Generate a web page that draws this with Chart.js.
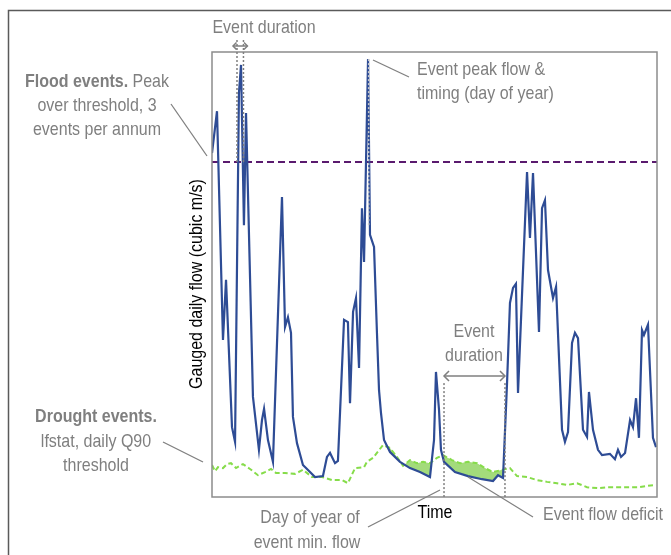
<!DOCTYPE html>
<html><head><meta charset="utf-8">
<script src="https://cdn.jsdelivr.net/npm/chart.js@4.4.1/dist/chart.umd.min.js"></script>
<style>html,body{margin:0;padding:0;background:#fff;}#wrap{width:671px;height:555px;position:relative;}</style>
</head><body><div id="wrap"><canvas id="c" width="671" height="555"></canvas></div>
<script>
// Gauged daily flow (schematic hydrograph)
const flowDays = [0,4.1,9.0,11.5,16.4,18.9,22.1,23.8,26.2,27.9,33.6,38.5,41.0,42.7,45.9,50.0,57.4,59.9,62.3,64.8,66.4,69.7,74.6,80.4,84.5,91.0,94.3,96.8,100.9,103.3,108.3,111.5,113.2,115.7,118.1,120.6,123.0,124.7,128.0,129.6,132.9,135.3,137.0,138.6,141.1,146.0,154.2,162.4,170.6,178.8,182.1,183.7,186.2,187.8,190.3,199.3,210.0,221.5,230.5,234.6,238.7,242.0,244.4,246.9,249.3,251.0,258.4,260.8,263.3,268.2,270.7,273.1,275.6,279.7,282.2,287.1,289.5,292.0,295.3,297.7,300.2,304.3,307.6,309.2,312.5,316.6,319.9,326.4,330.5,333.0,335.5,338.8,342.9,345.3,347.8,350.2,352.7,354.3,357.6,361.7,364.2];
const flowValues = [77.3,86.7,35.3,48.8,15.7,12.4,90.8,97.1,61.1,86.3,22.5,10.6,17.3,19.8,12.8,7.9,67.4,38.2,40.4,36.9,18.0,12.1,7.2,5.6,4.5,4.7,9.0,9.9,7.6,8.1,39.8,39.3,21.1,41.6,44.7,29.0,64.9,52.8,98.4,58.9,56.2,36.9,24.0,18.9,12.8,10.1,7.9,6.5,5.6,4.5,12.8,28.1,19.6,10.6,7.9,5.6,4.7,4.0,3.6,4.9,4.3,25.6,43.6,47.0,47.9,23.4,73.0,58.2,72.8,37.1,64.9,66.7,51.0,44.7,47.2,15.1,12.4,14.6,34.6,36.9,35.7,15.1,13.5,23.6,15.1,10.6,9.4,9.7,8.5,10.6,9.0,9.9,17.3,15.7,22.2,13.3,37.5,36.4,38.7,13.3,11.2];
// lfstat daily Q90 drought threshold
const q90Days = [0,2.5,4.9,9.0,12.3,15.6,19.7,25.4,31.2,37.7,43.5,48.4,52.5,59.9,68.1,74.6,82.0,90.2,98.4,106.6,111.5,117.3,124.7,127.1,132.1,140.3,146.0,151.7,156.7,162.4,168.1,173.1,178.8,184.5,189.5,196.9,203.4,210.0,217.4,223.9,230.5,237.9,244.4,250.2,258.4,266.6,274.8,283.0,291.2,299.4,307.6,316.6,324.8,333.0,341.2,349.5,357.6,364.2];
const q90Values = [7.2,5.8,6.7,6.5,7.4,7.6,6.5,7.4,6.3,4.9,5.6,6.3,5.4,5.4,5.2,6.1,4.5,4.5,3.8,3.8,3.1,6.5,6.7,7.9,8.8,11.7,11.0,9.0,7.0,8.3,7.6,7.9,7.6,8.8,9.4,8.3,7.6,7.9,7.6,6.5,5.6,6.1,6.5,4.7,4.5,3.8,3.4,3.1,2.7,3.1,2.2,2.0,2.2,2.2,2.2,2.2,2.5,2.7];
// Peak-over-threshold flood threshold
const floodThreshold = 75.3;
const floodEventDays = [20.5, 25.8];
const floodPeakDay = 128.5;
const floodPeakLegFlow = 61;
const droughtEventDays = [190.3, 240.3];
const droughtArrowFlow = 27.2;
const droughtLineTopFlow = 25.6;

const GRAY = '#7f7f7f';
const FONT = '"Liberation Sans", Arial, sans-serif';
const VSTRETCH = 1.12;

function toXY(xs, ys){ return xs.map((x,i)=>({x:x, y:ys[i]})); }

function arrowHead(ctx, x, y, dir, s){
  ctx.beginPath();
  ctx.moveTo(x - dir*s, y - s);
  ctx.lineTo(x, y);
  ctx.lineTo(x - dir*s, y + s);
  ctx.stroke();
}
function line(ctx, x1,y1,x2,y2){ ctx.beginPath(); ctx.moveTo(x1,y1); ctx.lineTo(x2,y2); ctx.stroke(); }
function text(ctx, s, x, y, align, color, weight){
  ctx.save();
  ctx.font = (weight||'normal') + ' 16px ' + FONT;
  ctx.fillStyle = color || GRAY; ctx.textAlign = align || 'center'; ctx.textBaseline = 'middle';
  ctx.translate(x, y); ctx.scale(1, VSTRETCH);
  ctx.fillText(s, 0, 0);
  ctx.restore();
}
function richCentered(ctx, boldPart, rest, cx, y){
  ctx.font = 'bold 16px ' + FONT; const wb = ctx.measureText(boldPart).width;
  ctx.font = 'normal 16px ' + FONT; const wr = ctx.measureText(rest).width;
  const x0 = cx - (wb+wr)/2;
  text(ctx, boldPart, x0, y, 'left', GRAY, 'bold');
  text(ctx, rest, x0+wb, y, 'left', GRAY, 'normal');
}

const annot = {
  id: 'annot',
  afterDraw(chart){
    const ctx = chart.ctx, ca = chart.chartArea;
    const xs = chart.scales.x, ys = chart.scales.y;
    ctx.save();
    // outer frame
    ctx.strokeStyle = '#5a5a5a'; ctx.lineWidth = 1.5;
    ctx.strokeRect(8.5, 10.5, 700, 600);
    // plot frame
    ctx.strokeStyle = '#8c8c8c'; ctx.lineWidth = 1.5;
    ctx.strokeRect(ca.left, ca.top, ca.width, ca.height);

    ctx.strokeStyle = GRAY; ctx.lineWidth = 1.5;
    // flood event duration
    const thrY = ys.getPixelForValue(floodThreshold);
    ctx.setLineDash([2,2]);
    floodEventDays.forEach(d=>{ const x = xs.getPixelForValue(d); line(ctx, x, ca.top-12, x, thrY); });
    // peak timing
    const px = xs.getPixelForValue(floodPeakDay);
    ctx.strokeStyle = '#c8c8c8';
    line(ctx, px, ys.getPixelForValue(flowValues[38]), px, ys.getPixelForValue(floodPeakLegFlow));
    ctx.strokeStyle = GRAY;
    // drought event duration
    const dTop = ys.getPixelForValue(droughtLineTopFlow);
    droughtEventDays.forEach(d=>{ const x = xs.getPixelForValue(d); line(ctx, x, dTop, x, ca.bottom); });
    ctx.setLineDash([]);
    // flood arrow
    const fa1 = xs.getPixelForValue(floodEventDays[0]) - 4, fa2 = xs.getPixelForValue(floodEventDays[1]) + 4;
    const fay = ca.top - 6;
    line(ctx, fa1, fay, fa2, fay); arrowHead(ctx, fa1, fay, -1, 3.5); arrowHead(ctx, fa2, fay, 1, 3.5);
    // drought arrow
    const da1 = xs.getPixelForValue(droughtEventDays[0]), da2 = xs.getPixelForValue(droughtEventDays[1]);
    const day = ys.getPixelForValue(droughtArrowFlow);
    line(ctx, da1, day, da2, day); arrowHead(ctx, da1, day, -1, 5); arrowHead(ctx, da2, day, 1, 5);

    // leader lines
    ctx.strokeStyle = '#808080'; ctx.lineWidth = 1.3;
    line(ctx, 171, 104, 207, 156);
    line(ctx, 373, 60, 409, 77);
    line(ctx, 163, 442, 203, 462);
    line(ctx, 368, 527, 440, 490);
    line(ctx, 468, 477, 533, 517);

    // texts
    text(ctx, 'Event duration', 264, 28);
    richCentered(ctx, 'Flood events.', ' Peak', 97, 82);
    text(ctx, 'over threshold, 3', 97, 106);
    text(ctx, 'events per annum', 97, 130);
    text(ctx, 'Event peak flow &', 417, 70, 'left');
    text(ctx, 'timing (day of year)', 417, 94, 'left');
    text(ctx, 'Event', 474, 332);
    text(ctx, 'duration', 474, 356);
    text(ctx, 'Drought events.', 96, 417, 'center', GRAY, 'bold');
    text(ctx, 'lfstat, daily Q90', 96, 442);
    text(ctx, 'threshold', 96, 466);
    text(ctx, 'Time', 435, 513, 'center', '#000');
    text(ctx, 'Day of year of', 310, 518);
    text(ctx, 'event min. flow', 307, 543);
    text(ctx, 'Event flow deficit', 543, 515, 'left');
    // y axis title
    ctx.save();
    ctx.translate(197, 284); ctx.rotate(-Math.PI/2);
    text(ctx, 'Gauged daily flow (cubic m/s)', 0, 0, 'center', '#000');
    ctx.restore();
    ctx.restore();
  }
};

new Chart(document.getElementById('c'), {
  type: 'line',
  data: {
    datasets: [
      { label: 'Gauged daily flow', data: toXY(flowDays, flowValues), borderColor: '#2e4c95', borderWidth: 2.2, pointRadius: 0, tension: 0, fill: false },
      { label: 'Q90 threshold', data: toXY(q90Days, q90Values), borderColor: '#86dc4a', borderWidth: 2, borderDash: [5,3], pointRadius: 0, tension: 0,
        fill: { target: 0, above: 'rgba(140,210,90,0.8)', below: 'rgba(0,0,0,0)' } },
      { label: 'Flood threshold', data: [{x:0,y:floodThreshold},{x:365,y:floodThreshold}], borderColor: '#5a1a6e', borderWidth: 2, borderDash: [7,4], pointRadius: 0, fill: false }
    ]
  },
  options: {
    responsive: false, animation: false, devicePixelRatio: 1,
    layout: { padding: { left: 212, top: 52, right: 14, bottom: 58 } },
    scales: {
      x: { type: 'linear', min: 0, max: 365, display: false },
      y: { min: 0, max: 100, display: false }
    },
    plugins: { legend: { display: false }, tooltip: { enabled: false } }
  },
  plugins: [annot]
});
</script></body></html>
